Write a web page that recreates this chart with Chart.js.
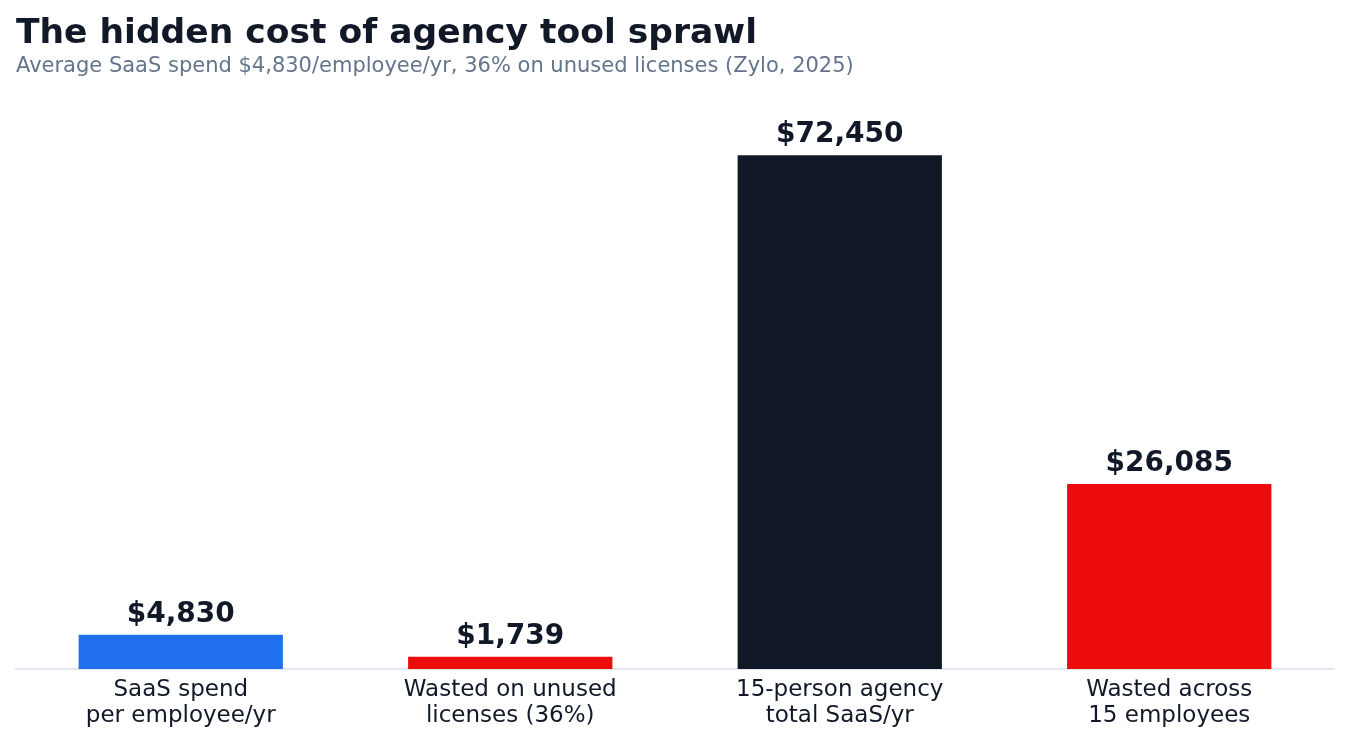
<!DOCTYPE html>
<html>
<head>
<meta charset="utf-8">
<script src="https://cdn.jsdelivr.net/npm/chart.js@4"></script>
<style>
  html, body { margin: 0; padding: 0; background: #ffffff; }
  #wrap { width: 1350px; height: 742px; }
</style>
</head>
<body>
<div id="wrap"><canvas id="chart" width="1350" height="742"></canvas></div>
<script>
// データ
const categories = [
    ["SaaS spend", "per employee/yr"],
    ["Wasted on unused", "licenses (36%)"],
    ["15-person agency", "total SaaS/yr"],
    ["Wasted across", "15 employees"]
];
const values = [4830, 1739, 72450, 26085];
const valueLabels = ["$4,830", "$1,739", "$72,450", "$26,085"];
const barColors = ["#216fee", "#ec0c0c", "#111827", "#ec0c0c"];

const FONT = "'DejaVu Sans', sans-serif";

// 棒の上に値を描くプラグイン
const valueLabelPlugin = {
    id: 'valueLabels',
    afterDatasetsDraw(chart) {
        const ctx = chart.ctx;
        const meta = chart.getDatasetMeta(0);
        ctx.save();
        ctx.font = "bold 28px " + FONT;
        ctx.fillStyle = "#111827";
        ctx.textAlign = "center";
        ctx.textBaseline = "bottom";
        meta.data.forEach((bar, i) => {
            ctx.fillText(valueLabels[i], bar.x, bar.y - 6);
        });
        ctx.restore();
    }
};

const ctx = document.getElementById('chart').getContext('2d');
new Chart(ctx, {
    type: 'bar',
    data: {
        labels: categories,
        datasets: [{
            data: values,
            backgroundColor: barColors,
            borderWidth: 0,
            barPercentage: 0.62,
            categoryPercentage: 1.0
        }]
    },
    options: {
        responsive: false,
        animation: false,
        layout: {
            padding: { left: 16, right: 16, top: 0, bottom: 5 }
        },
        plugins: {
            legend: { display: false },
            tooltip: { enabled: false },
            title: {
                display: true,
                text: "The hidden cost of agency tool sprawl",
                align: 'start',
                color: "#111827",
                font: { family: FONT, size: 34.5, weight: 'bold' },
                padding: { top: 13, bottom: 0 }
            },
            subtitle: {
                display: true,
                text: "Average SaaS spend $4,830/employee/yr, 36% on unused licenses (Zylo, 2025)",
                align: 'start',
                color: "#64748b",
                font: { family: FONT, size: 21 },
                padding: { top: 0, bottom: 22 }
            }
        },
        scales: {
            x: {
                grid: { display: false, drawTicks: false },
                border: { display: true, color: "#e2e8f0", width: 2 },
                ticks: {
                    color: "#111827",
                    font: { family: FONT, size: 23, lineHeight: 1.13 },
                    padding: 8
                }
            },
            y: {
                display: false,
                min: 0,
                max: 80000
            }
        }
    },
    plugins: [valueLabelPlugin]
});
</script>
</body>
</html>
